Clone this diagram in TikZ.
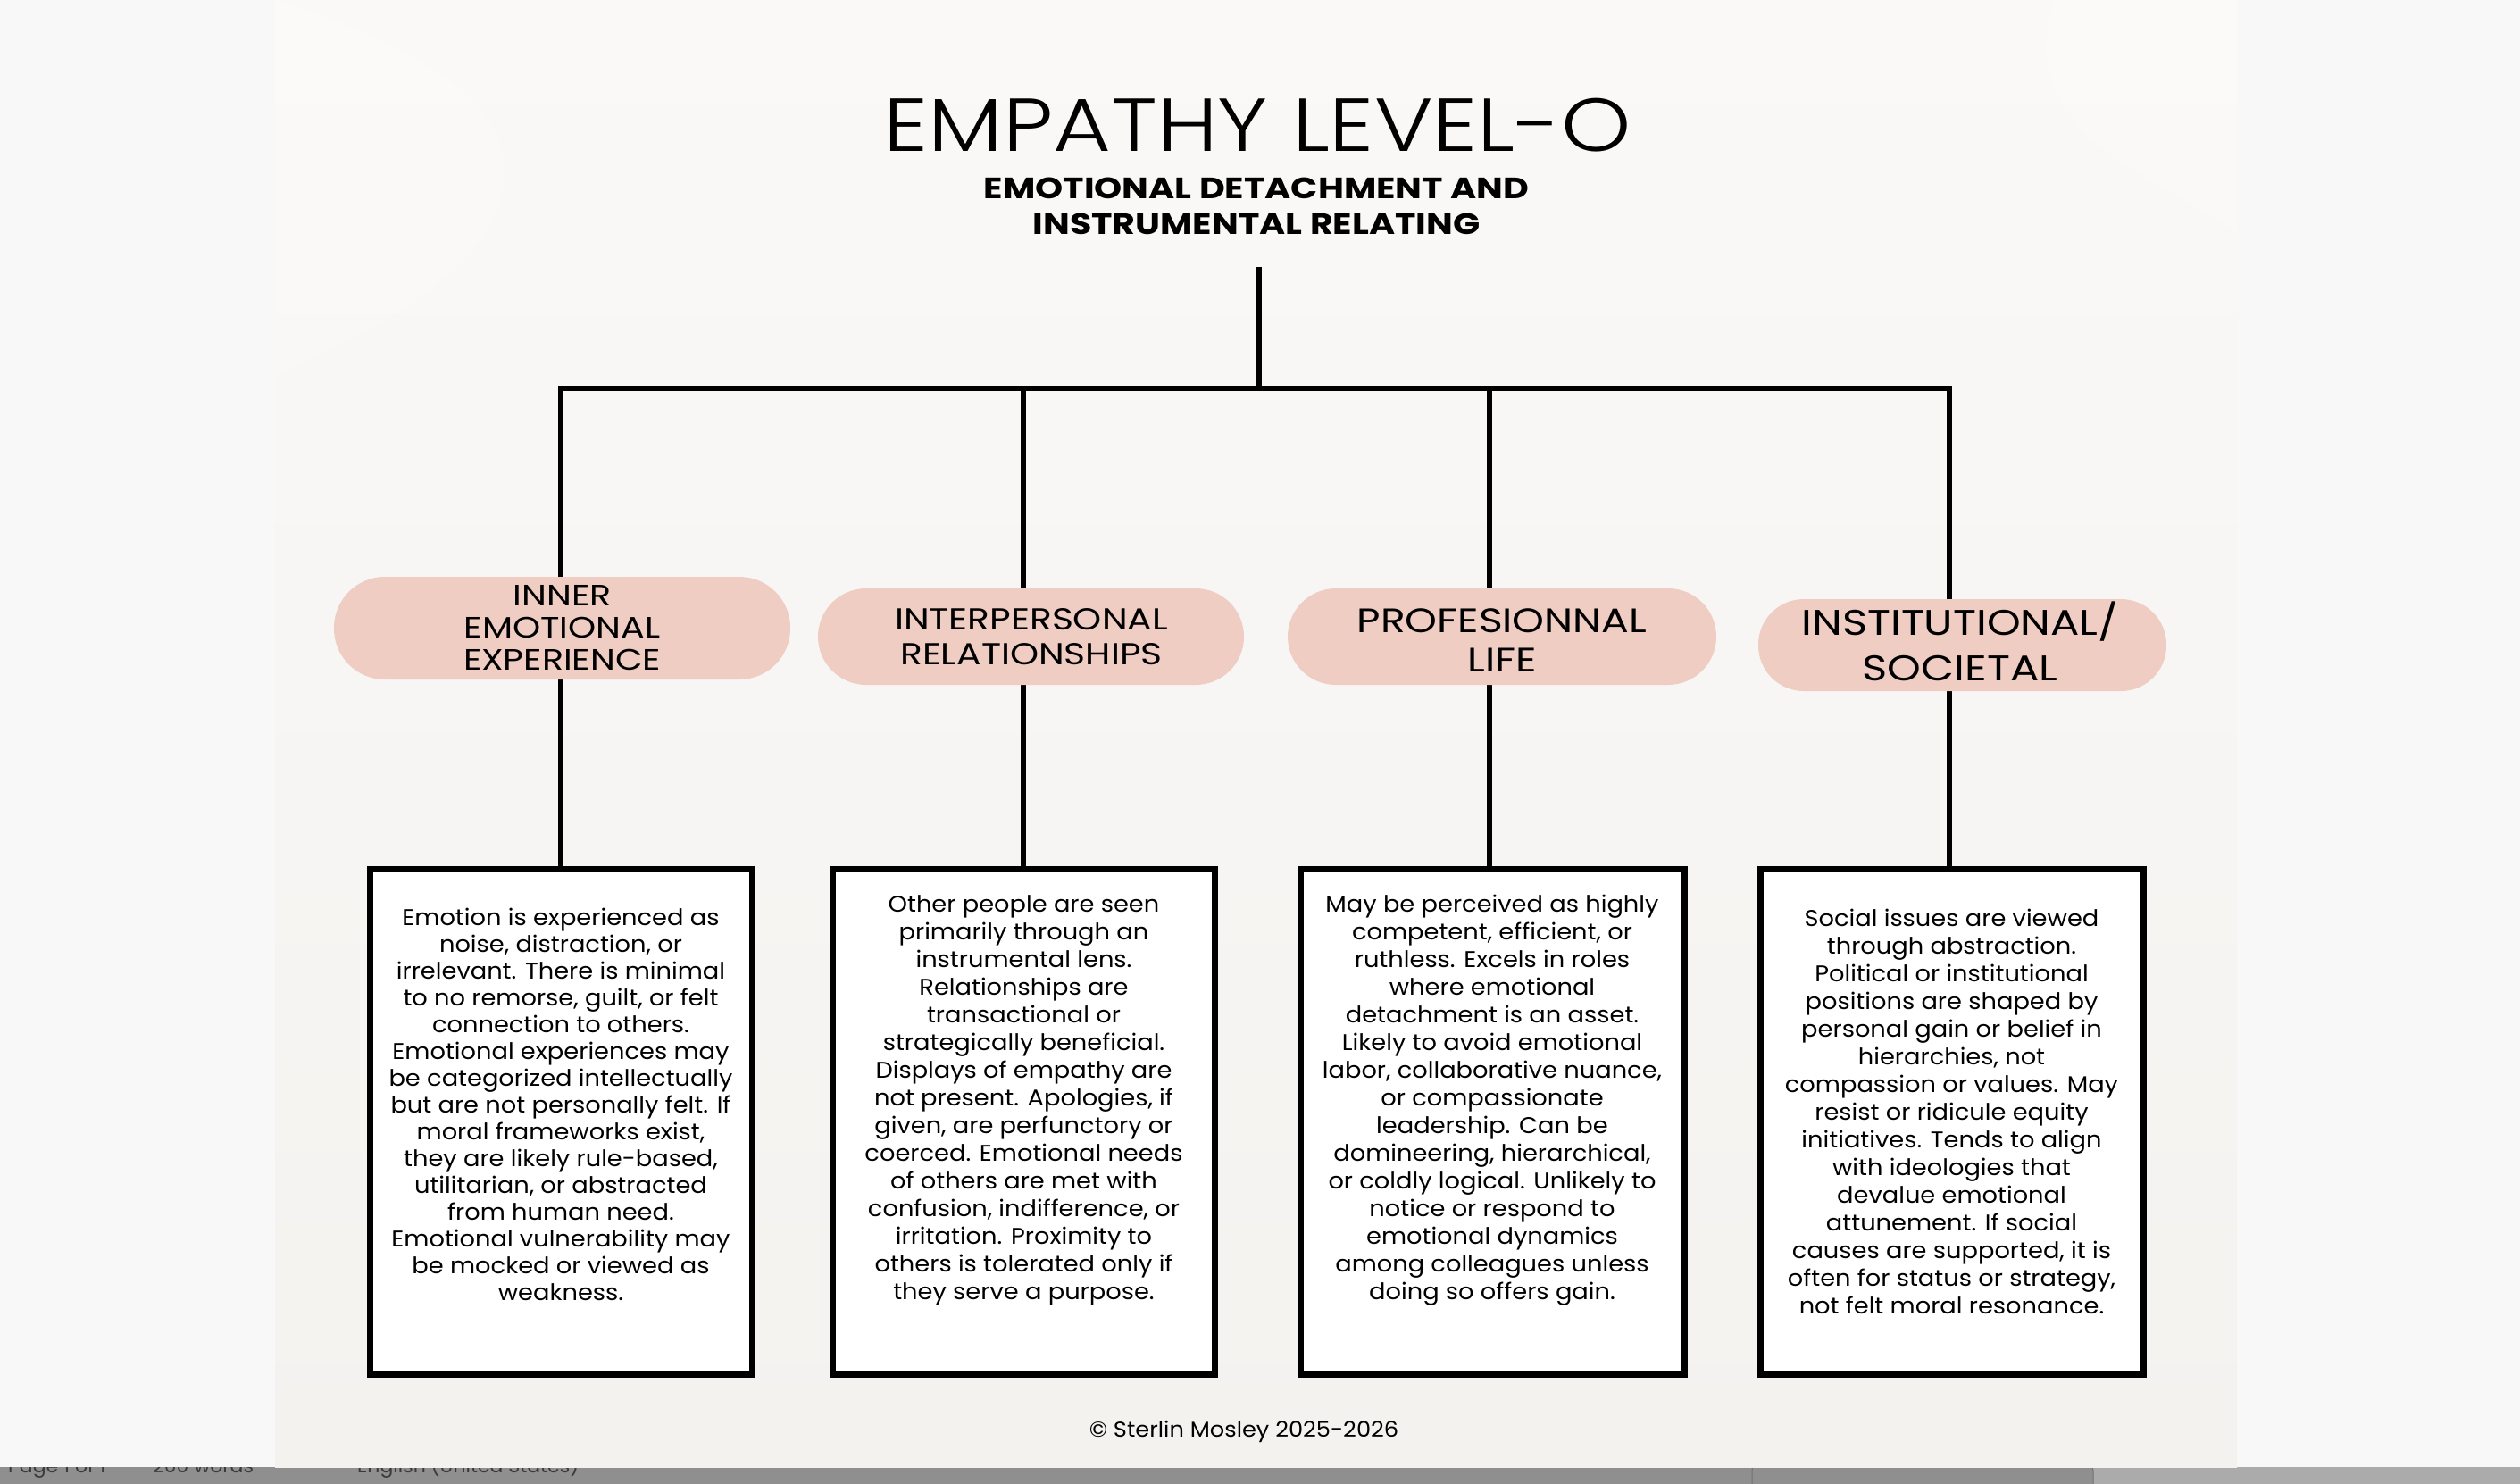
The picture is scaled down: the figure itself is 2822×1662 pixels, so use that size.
\documentclass[tikz,border=0pt]{standalone}
\usepackage{fontspec}
\setmainfont{Poppins}
\newfontfamily\titlefont{Poppins Light}[FakeStretch=1.185]
\newfontfamily\capsfont{Poppins}[FakeStretch=1.2]
\newfontfamily\bodyfont{Poppins}[FakeStretch=1.07]
\definecolor{marginc}{HTML}{F8F8F8}
\definecolor{pagetop}{HTML}{FAF9F8}
\definecolor{pagebot}{HTML}{F4F2EF}
\definecolor{pillc}{HTML}{EFCDC3}
\definecolor{barc}{HTML}{8F8F8F}
\definecolor{barlight}{HTML}{ABABAB}
\definecolor{stattext}{HTML}{3A3A3A}
\begin{document}
\begin{tikzpicture}[x=1pt,y=-1pt,
  tree/.style={line width=6pt, black},
  pillbox/.style={fill=pillc, draw=none, inner sep=0pt, rounded corners=#1},
  pilltext/.style={align=center, inner sep=0pt, text=black},
  infobox/.style={draw=black, line width=7pt, fill=white, inner sep=0pt},
  infotext/.style={align=center, inner sep=0pt, font=\bodyfont\fontsize{25.5}{31}\selectfont},
  stat/.style={anchor=base west, inner sep=0pt, text=stattext, font=\fontsize{22}{26}\selectfont}
]
\useasboundingbox (0,0) rectangle (2822,1662);
% status bar of the window (mostly hidden)
\fill[barc] (0,1640) rectangle (2822,1662);
\fill[barlight] (2344,1640) rectangle (2822,1662);
\filldraw[fill=barc, draw=barc!80!black, line width=1pt, rounded corners=18pt] (1962,1630) rectangle (2344,1680);
\node[stat] (s1) at (9,1649) {Page 1 of 1};
\node[stat] (s2) at (171,1649) {200 words};
\node[stat] (s3) at (400,1649) {English (United States)};
% window and page
\fill[marginc] (0,0) rectangle (2822,1643);
\shade[top color=pagetop, bottom color=pagebot] (308,0) rectangle (2505,1643);
\fill[white, opacity=0.2] (308,0) .. controls (700,120) and (600,300) .. (308,420) -- cycle;
\fill[white, opacity=0.2] (2300,0) .. controls (2250,150) and (2420,200) .. (2505,260) -- (2505,0) -- cycle;

% title
\node[anchor=base, inner sep=0pt, font=\titlefont\fontsize{84}{90}\selectfont] (title) at (1408,169) {EMPATHY LEVEL-O};
\node[align=center, inner sep=0pt, font=\capsfont\bfseries\fontsize{33}{40}\selectfont] (sub) at (1407,231) {EMOTIONAL DETACHMENT AND\\INSTRUMENTAL RELATING};

% tree
\coordinate (top) at (1410,299);
\coordinate (hub) at (1410,435);
\coordinate (d1) at (628,435);
\coordinate (d2) at (1146,435);
\coordinate (d3) at (1668,435);
\coordinate (d4) at (2183,435);
\draw[tree] (top) -- (hub);
\draw[tree, line cap=rect] (d1) -- (d4);

% boxes
\node[infobox, minimum width=428pt, minimum height=566pt] (b1) at (628,1256) {};
\node[infobox, minimum width=428pt, minimum height=566pt] (b2) at (1146.5,1256) {};
\node[infobox, minimum width=430pt, minimum height=566pt] (b3) at (1671,1256) {};
\node[infobox, minimum width=429pt, minimum height=566pt] (b4) at (2185.5,1256) {};

\draw[tree] (d1) -- (d1 |- b1.north);
\draw[tree] (d2) -- (d2 |- b2.north);
\draw[tree] (d3) -- (d3 |- b3.north);
\draw[tree] (d4) -- (d4 |- b4.north);

% pills
\node[pillbox=57pt, minimum width=511pt, minimum height=115pt] (p1) at (629.5,703.5) {};
\node[pillbox=54pt, minimum width=477pt, minimum height=108pt] (p2) at (1154.5,713) {};
\node[pillbox=54pt, minimum width=480pt, minimum height=108pt] (p3) at (1682,713) {};
\node[pillbox=51pt, minimum width=457pt, minimum height=103pt] (p4) at (2197.5,722.5) {};

\node[pilltext, font=\capsfont\fontsize{33}{36}\selectfont] (t1) at (p1) {INNER\\EMOTIONAL\\EXPERIENCE};
\node[pilltext, font=\capsfont\fontsize{34}{39}\selectfont] (t2) at (1155,713) {INTERPERSONAL\\RELATIONSHIPS};
\node[pilltext, font=\capsfont\fontsize{38}{44}\selectfont] (t3) at (1682,717) {PROFESIONNAL\\LIFE};
\node[pilltext, font=\capsfont\fontsize{40}{51}\selectfont] (t4) at (2195,718) {INSTITUTIONAL/\\SOCIETAL};

% box texts
\node[infotext, font=\bodyfont\fontsize{25.5}{30}\selectfont] (x1) at (628,1237) {Emotion is experienced as\\noise, distraction, or\\irrelevant. There is minimal\\to no remorse, guilt, or felt\\connection to others.\\Emotional experiences may\\be categorized intellectually\\but are not personally felt. If\\moral frameworks exist,\\they are likely rule-based,\\utilitarian, or abstracted\\from human need.\\Emotional vulnerability may\\be mocked or viewed as\\weakness.};
\node[infotext] (x2) at (1146.5,1232) {Other people are seen\\primarily through an\\instrumental lens.\\Relationships are\\transactional or\\strategically beneficial.\\Displays of empathy are\\not present. Apologies, if\\given, are perfunctory or\\coerced. Emotional needs\\of others are met with\\confusion, indifference, or\\irritation. Proximity to\\others is tolerated only if\\they serve a purpose.};
\node[infotext] (x3) at (1671,1232) {May be perceived as highly\\competent, efficient, or\\ruthless. Excels in roles\\where emotional\\detachment is an asset.\\Likely to avoid emotional\\labor, collaborative nuance,\\or compassionate\\leadership. Can be\\domineering, hierarchical,\\or coldly logical. Unlikely to\\notice or respond to\\emotional dynamics\\among colleagues unless\\doing so offers gain.};
\node[infotext] (x4) at (2185.5,1245) {Social issues are viewed\\through abstraction.\\Political or institutional\\positions are shaped by\\personal gain or belief in\\hierarchies, not\\compassion or values. May\\resist or ridicule equity\\initiatives. Tends to align\\with ideologies that\\devalue emotional\\attunement. If social\\causes are supported, it is\\often for status or strategy,\\not felt moral resonance.};

% footer
\node[anchor=base, inner sep=0pt, font=\bodyfont\fontsize{24}{28}\selectfont] (foot) at (1393,1609) {© Sterlin Mosley 2025-2026};
\end{tikzpicture}
\end{document}
